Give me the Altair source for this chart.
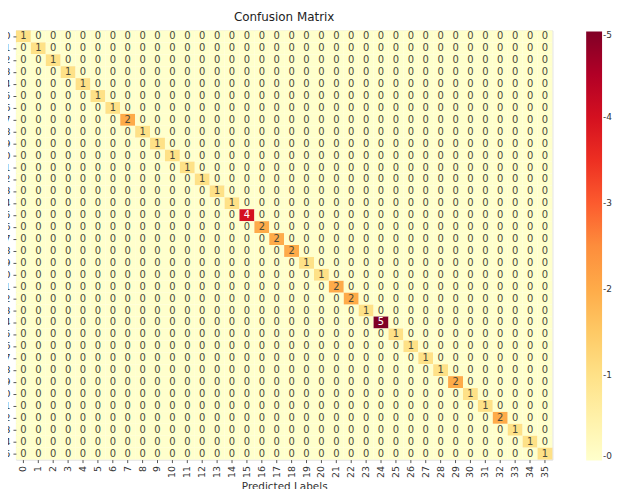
import altair as alt
import pandas as pd

labels = [str(i) for i in range(36)]
diag_counts = [1, 1, 1, 1, 1, 1, 1, 2, 1, 1, 1, 1, 1, 1, 1, 4, 2, 2, 2, 1,
               1, 2, 2, 1, 5, 1, 1, 1, 1, 2, 1, 1, 2, 1, 1, 1]
ylorrd = ["#ffffcc", "#ffeda0", "#fed976", "#feb24c", "#fd8d3c",
          "#fc4e2a", "#e31a1c", "#bd0026", "#800026"]

rows = []
for i, t in enumerate(labels):
    for j, p in enumerate(labels):
        rows.append({"true": t, "pred": p, "count": diag_counts[i] if i == j else 0})
df = pd.DataFrame(rows)

FONT = "DejaVu Sans"

x = alt.X("pred:O", sort=labels, title="Predicted Labels",
          scale=alt.Scale(paddingInner=0, paddingOuter=0),
          axis=alt.Axis(labelAngle=270, labelFontSize=9.5, labelColor="#333",
                        tickColor="#555", tickSize=3, domain=False,
                        labelPadding=3, titleFontSize=10.5, titleFontWeight="normal",
                        titleColor="#333", titlePadding=4, labelFont=FONT, titleFont=FONT,
                        labelBaseline="middle"))
y = alt.Y("true:O", sort=labels, title=None,
          scale=alt.Scale(paddingInner=0, paddingOuter=0),
          axis=alt.Axis(labelFontSize=9.5, labelColor="#333", tickColor="#555",
                        tickSize=3, domain=False, labelPadding=3, labelFont=FONT))

base = alt.Chart(df).encode(x=x, y=y)

domain_vals = [i * 5 / 8 for i in range(9)]

heat = base.mark_rect().encode(
    color=alt.Color("count:Q",
                    scale=alt.Scale(domain=domain_vals, range=ylorrd, interpolate="rgb"),
                    legend=alt.Legend(title=None, orient="none", legendX=574, legendY=1,
                                      direction="vertical", gradientLength=432,
                                      gradientThickness=16, values=[0, 1, 2, 3, 4, 5],
                                      labelExpr="'-' + datum.label",
                                      labelFontSize=9, labelColor="#333",
                                      labelFont=FONT, gradientStrokeWidth=0,
                                      labelOffset=1, labelOverlap=False))
)

text = base.mark_text(fontSize=10, font=FONT).encode(
    text="count:Q",
    color=alt.condition(alt.datum.count >= 4, alt.value("white"), alt.value("#4a4a3a"))
)

chart = (heat + text).properties(
    width=540, height=432,
    title=alt.TitleParams("Confusion Matrix", fontSize=12, fontWeight="normal",
                          font=FONT, color="#222", offset=7),
    autosize=alt.AutoSizeParams(type="none"),
    padding={"left": 8, "top": 21, "right": 60, "bottom": 28},
).configure_view(strokeWidth=0).configure(background="white")

chart.save("out.html", embed_options={"renderer": "svg", "actions": False})
